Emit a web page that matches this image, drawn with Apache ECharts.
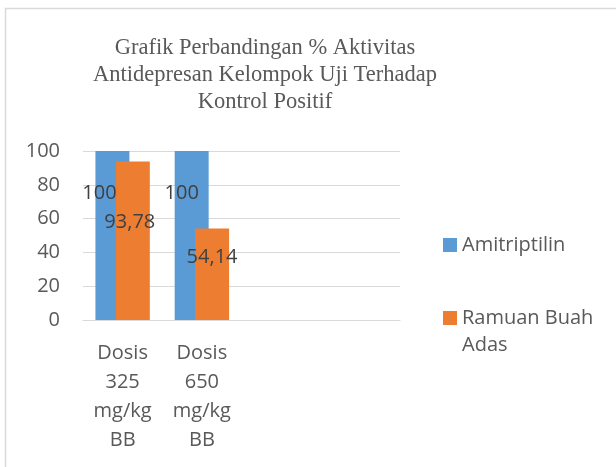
<!DOCTYPE html>
<html>
<head>
<meta charset="utf-8">
<script src="https://cdn.jsdelivr.net/npm/echarts@6/dist/echarts.min.js"></script>
<style>html,body{margin:0;padding:0;background:#fff;}#c{width:616px;height:467px;}</style>
</head>
<body>
<div id="c"></div>
<script>
const categories = ["Dosis 325 mg/kg BB", "Dosis 650 mg/kg BB", "", ""];
const amitriptilin = [100, 100, null, null];
const ramuanBuahAdas = [93.78, 54.14, null, null];
const yTicks = [0, 20, 40, 60, 80, 100];
const seriesNames = ["Amitriptilin", "Ramuan Buah Adas"];

const blueLabelPos = [[-13, 42], [-10, 42]];
const orangeLabelPos = [[-3, 61], [0, 29]];

function fmt(v) { return String(v).replace('.', ','); }
function withLabels(values, pos) {
  return values.map((v, i) => {
    if (v == null) return null;
    const p = pos[i];
    return {
      value: v,
      label: {
        show: true, position: ['50%', p[1]], offset: [p[0], 0],
        align: 'center', verticalAlign: 'middle',
        formatter: () => fmt(v)
      }
    };
  });
}

const chart = echarts.init(document.getElementById('c'));
const sans = "'Open Sans', sans-serif";
chart.setOption({
  animation: false,
  title: {
    text: "Grafik Perbandingan % Aktivitas\nAntidepresan Kelompok Uji Terhadap\nKontrol Positif",
    left: 265, top: 35, textAlign: 'center', padding: 0,
    textStyle: { fontFamily: "'Liberation Serif', serif", fontWeight: 'normal', fontSize: 22.5, lineHeight: 27, color: '#595959' }
  },
  legend: [
    { data: [seriesNames[0]], orient: 'vertical', left: 443, top: 235, padding: 0, itemWidth: 14, itemHeight: 14, icon: 'rect',
      textStyle: { fontFamily: sans, fontSize: 20, color: '#595959' } },
    { data: [seriesNames[1]], orient: 'vertical', left: 443, top: 308, padding: 0, itemWidth: 14, itemHeight: 14, icon: 'rect',
      formatter: n => n.replace(' Adas', ''),
      textStyle: { fontFamily: sans, fontSize: 20, color: '#595959' } }
  ],
  graphic: [
    { type: 'rect', shape: { x: 5.5, y: 8.5, width: 700, height: 600 }, style: { fill: 'none', stroke: '#d9d9d9', lineWidth: 1.5 }, silent: true },
    { type: 'text', left: 462, top: 335, style: { text: 'Adas', font: "20px 'Open Sans', sans-serif", fill: '#595959' } }
  ],
  grid: { left: 83, right: 216, top: 151, bottom: 147 },
  xAxis: {
    type: 'category', data: categories,
    axisLine: { lineStyle: { color: '#d9d9d9', width: 1 } },
    axisTick: { show: false },
    axisLabel: { interval: 0, margin: 19, fontFamily: sans, fontSize: 20, lineHeight: 29, color: '#595959',
      formatter: v => v.split(' ').join('\n') }
  },
  yAxis: {
    type: 'value', min: yTicks[0], max: yTicks[yTicks.length - 1], interval: 20,
    axisLine: { show: false }, axisTick: { show: false },
    splitLine: { lineStyle: { color: '#d9d9d9', width: 1 } },
    axisLabel: { margin: 23, fontFamily: sans, fontSize: 20, color: '#595959' }
  },
  series: [
    { name: seriesNames[0], type: 'bar', data: withLabels(amitriptilin, blueLabelPos), barWidth: 34, barGap: '-40%',
      itemStyle: { color: '#5B9BD5' },
      label: { fontFamily: sans, fontSize: 20, color: '#404040' } },
    { name: seriesNames[1], type: 'bar', data: withLabels(ramuanBuahAdas, orangeLabelPos), barWidth: 34, barGap: '-40%',
      itemStyle: { color: '#ED7D31' },
      label: { fontFamily: sans, fontSize: 20, color: '#404040' } }
  ]
});
</script>
</body>
</html>
